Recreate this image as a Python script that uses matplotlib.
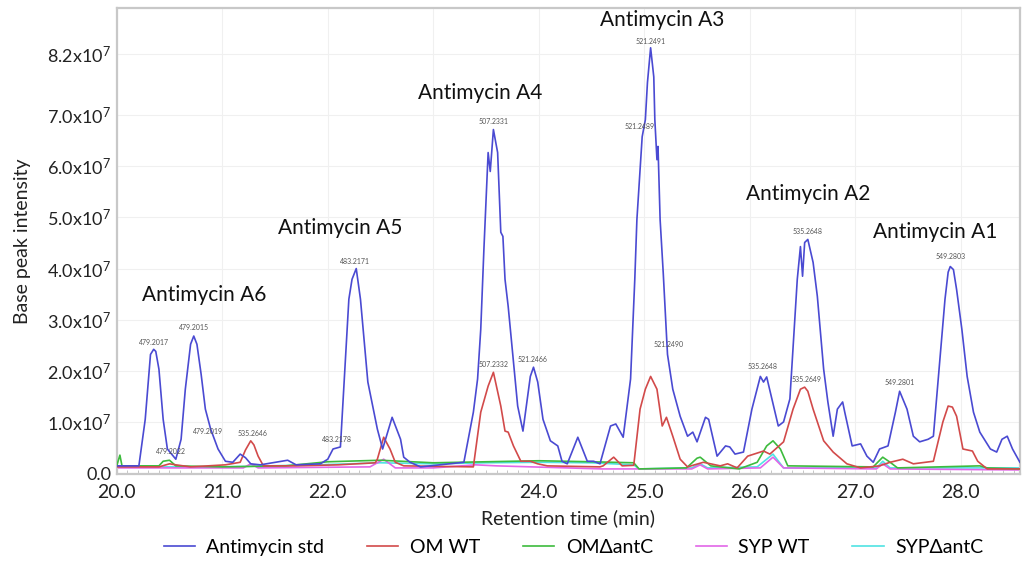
import matplotlib
matplotlib.use('Agg')
import matplotlib.pyplot as plt
from matplotlib.ticker import MultipleLocator

plt.rcParams['font.family'] = ['Lato', 'DejaVu Sans']
plt.rcParams['mathtext.default'] = 'regular'

# retention time (min) and base peak intensity (x1e7)
std_t = [20.00, 20.21, 20.27, 20.32, 20.35, 20.37, 20.40, 20.44, 20.48, 20.56, 20.61, 20.65, 20.70,
         20.73, 20.76, 20.80, 20.84, 20.89, 20.96, 21.03, 21.10, 21.17, 21.22, 21.27, 21.36, 21.62,
         21.70, 21.93, 22.00, 22.05, 22.12, 22.20, 22.23, 22.27, 22.31, 22.38, 22.47, 22.52, 22.61,
         22.69, 22.72, 22.78, 22.88, 23.29, 23.35, 23.38, 23.42, 23.45, 23.48, 23.52, 23.54, 23.57,
         23.61, 23.64, 23.66, 23.68, 23.71, 23.80, 23.85, 23.92, 23.95, 23.99, 24.04, 24.11, 24.18,
         24.22, 24.27, 24.37, 24.46, 24.52, 24.58, 24.68, 24.73, 24.80, 24.87, 24.91, 24.93, 24.98,
         25.01, 25.03, 25.06, 25.09, 25.10, 25.12, 25.13, 25.15, 25.18, 25.22, 25.27, 25.34, 25.41,
         25.46, 25.50, 25.58, 25.61, 25.69, 25.77, 25.81, 25.86, 25.94, 26.02, 26.10, 26.13, 26.16,
         26.27, 26.32, 26.38, 26.45, 26.48, 26.50, 26.52, 26.55, 26.60, 26.64, 26.70, 26.74, 26.79,
         26.83, 26.88, 26.90, 26.97, 27.05, 27.11, 27.17, 27.23, 27.31, 27.38, 27.42, 27.49, 27.55,
         27.61, 27.69, 27.74, 27.80, 27.85, 27.88, 27.90, 27.93, 27.96, 28.01, 28.06, 28.12, 28.18,
         28.28, 28.34, 28.39, 28.44, 28.49, 28.56]
std_i = [0.14, 0.14, 1.05, 2.32, 2.42, 2.38, 2.03, 1.05, 0.47, 0.27, 0.66, 1.64, 2.52,
         2.68, 2.52, 1.93, 1.25, 0.86, 0.47, 0.23, 0.21, 0.37, 0.30, 0.18, 0.16, 0.25,
         0.16, 0.18, 0.27, 0.47, 0.51, 3.40, 3.79, 4.00, 3.40, 1.78, 0.86, 0.47, 1.09,
         0.66, 0.31, 0.21, 0.12, 0.21, 0.86, 1.19, 1.84, 2.81, 4.38, 6.27, 5.90, 6.72,
         6.27, 4.71, 4.63, 3.79, 3.26, 1.31, 0.82, 1.89, 2.07, 1.78, 1.05, 0.63, 0.53,
         0.23, 0.18, 0.70, 0.23, 0.23, 0.18, 0.92, 0.96, 0.70, 1.84, 3.79, 4.96, 6.58,
         6.91, 7.64, 8.32, 7.75, 6.91, 6.13, 6.39, 4.96, 3.90, 2.32, 1.64, 1.11, 0.72,
         0.80, 0.61, 1.09, 1.05, 0.33, 0.53, 0.51, 0.37, 0.41, 1.25, 1.89, 1.78, 1.88,
         0.92, 1.00, 1.45, 3.79, 4.43, 3.85, 4.51, 4.57, 4.12, 3.46, 2.03, 1.39, 0.72,
         1.25, 1.39, 1.19, 0.53, 0.57, 0.33, 0.21, 0.47, 0.53, 1.19, 1.60, 1.25, 0.72,
         0.61, 0.66, 0.72, 2.17, 3.40, 3.93, 4.04, 3.98, 3.59, 2.81, 1.89, 1.19, 0.80,
         0.47, 0.41, 0.66, 0.72, 0.47, 0.21]

omwt_t = [20.00, 20.40, 20.50, 20.56, 20.70, 21.03, 21.17, 21.22, 21.27, 21.30, 21.34, 21.39, 21.70,
          22.10, 22.45, 22.47, 22.53, 22.59, 22.64, 22.72, 23.38, 23.45, 23.52, 23.57, 23.64, 23.68,
          23.71, 23.76, 23.83, 23.92, 23.99, 24.08, 24.58, 24.61, 24.71, 24.79, 24.90, 24.96, 25.01,
          25.06, 25.12, 25.17, 25.21, 25.27, 25.34, 25.41, 25.56, 25.72, 25.79, 25.88, 25.98, 26.13,
          26.19, 26.32, 26.41, 26.48, 26.52, 26.55, 26.60, 26.70, 26.79, 26.92, 27.05, 27.23, 27.33,
          27.45, 27.55, 27.74, 27.83, 27.88, 27.92, 27.96, 28.02, 28.11, 28.16, 28.25, 28.56]
omwt_i = [0.12, 0.12, 0.18, 0.16, 0.12, 0.16, 0.21, 0.45, 0.63, 0.55, 0.33, 0.14, 0.14,
          0.16, 0.20, 0.27, 0.70, 0.47, 0.21, 0.14, 0.12, 1.19, 1.70, 1.97, 1.31, 0.82,
          0.80, 0.53, 0.23, 0.23, 0.18, 0.14, 0.12, 0.14, 0.31, 0.14, 0.15, 1.25, 1.64,
          1.89, 1.64, 0.92, 1.09, 0.72, 0.27, 0.12, 0.21, 0.14, 0.18, 0.10, 0.33, 0.43,
          0.37, 0.61, 1.25, 1.64, 1.68, 1.60, 1.25, 0.63, 0.41, 0.18, 0.10, 0.14, 0.21,
          0.27, 0.18, 0.23, 1.00, 1.31, 1.29, 1.11, 0.47, 0.43, 0.23, 0.08, 0.08]

omko_t = [20.00, 20.03, 20.05, 20.40, 20.44, 20.50, 20.56, 21.00, 21.60, 22.00, 22.50, 23.00, 23.50,
          24.00, 24.50, 24.90, 24.95, 25.40, 25.50, 25.53, 25.63, 25.90, 26.07, 26.16, 26.22, 26.29,
          26.36, 27.17, 27.26, 27.33, 27.40, 28.18, 28.25, 28.56]
omko_i = [0.14, 0.35, 0.14, 0.14, 0.23, 0.25, 0.14, 0.12, 0.14, 0.22, 0.25, 0.20, 0.22,
          0.24, 0.22, 0.20, 0.08, 0.10, 0.29, 0.31, 0.14, 0.08, 0.21, 0.53, 0.63, 0.47,
          0.14, 0.12, 0.31, 0.21, 0.10, 0.14, 0.10, 0.08]

sypwt_t = [20.00, 21.20, 21.27, 21.34, 22.40, 22.53, 22.64, 23.00, 23.40, 23.60, 24.60, 25.45, 25.53,
           25.60, 26.10, 26.22, 26.32, 27.20, 27.26, 27.33, 28.56]
sypwt_i = [0.10, 0.10, 0.18, 0.10, 0.12, 0.27, 0.10, 0.10, 0.16, 0.14, 0.08, 0.08, 0.16,
           0.08, 0.10, 0.31, 0.10, 0.08, 0.18, 0.08, 0.06]

sypko_t = [20.00, 21.00, 21.90, 22.50, 23.00, 23.50, 24.00, 24.50, 24.90, 24.95, 25.45, 25.53, 25.60,
           26.07, 26.22, 26.32, 27.20, 27.26, 27.33, 28.56]
sypko_i = [0.12, 0.12, 0.16, 0.20, 0.18, 0.20, 0.21, 0.20, 0.16, 0.08, 0.10, 0.18, 0.10,
           0.12, 0.37, 0.10, 0.10, 0.23, 0.10, 0.10]

# m/z labels of the peaks
mz_text = ['479.2017', '479.2015', '479.2022', '479.2019', '535.2646', '483.2178', '483.2171',
           '507.2331', '507.2332', '521.2466', '521.2491', '521.2489', '521.2490', '535.2648',
           '535.2648', '535.2649', '549.2801', '549.2803']
mz_t = [20.35, 20.73, 20.51, 20.87, 21.29, 22.09, 22.26, 23.57, 23.57, 23.94, 25.06, 24.96, 25.23,
        26.12, 26.55, 26.54, 27.42, 27.90]
mz_i = [2.56, 2.85, 0.43, 0.82, 0.78, 0.66, 4.14, 6.88, 2.13, 2.23, 8.44, 6.78, 2.52,
        2.09, 4.73, 1.82, 1.78, 4.24]

compounds = ['Antimycin A6', 'Antimycin A5', 'Antimycin A4', 'Antimycin A3', 'Antimycin A2', 'Antimycin A1']
comp_t = [20.83, 22.12, 23.44, 25.17, 26.55, 27.76]
comp_i = [3.48, 4.80, 7.44, 8.87, 5.45, 4.71]

ytick_vals = [0, 1, 2, 3, 4, 5, 6, 7, 8.2]
ytick_labels = ['0.0', '1.0x10$^{7}$', '2.0x10$^{7}$', '3.0x10$^{7}$', '4.0x10$^{7}$',
                '5.0x10$^{7}$', '6.0x10$^{7}$', '7.0x10$^{7}$', '8.2x10$^{7}$']

fig = plt.figure(figsize=(10.24, 5.65), dpi=100)
ax = fig.add_axes([0.114, 0.161, 0.882, 0.825])

lw = 1.2
ax.plot(sypko_t, sypko_i, color='#4fe3e3', lw=lw, label='SYP\u0394antC', zorder=2)
ax.plot(sypwt_t, sypwt_i, color='#e266e8', lw=lw, label='SYP WT', zorder=2)
ax.plot(omko_t, omko_i, color='#3dbb3d', lw=lw, label='OM\u0394antC', zorder=3)
ax.plot(omwt_t, omwt_i, color='#d24a4a', lw=lw, label='OM WT', zorder=4)
ax.plot(std_t, std_i, color='#4a4ad2', lw=lw, label='Antimycin std', zorder=5)

for s, t, v in zip(mz_text, mz_t, mz_i):
    ax.text(t, v, s, fontsize=5, color='#555555', ha='center', va='center', zorder=6)

for s, t, v in zip(compounds, comp_t, comp_i):
    ax.text(t, v, s, fontsize=15, color='#111111', ha='center', va='center', zorder=6)

ax.set_xlim(20.0, 28.56)
ax.set_ylim(-0.02, 9.1)
ax.set_xticks([20, 21, 22, 23, 24, 25, 26, 27, 28])
ax.set_xticklabels(['20.0', '21.0', '22.0', '23.0', '24.0', '25.0', '26.0', '27.0', '28.0'])
ax.xaxis.set_minor_locator(MultipleLocator(0.1))
ax.set_yticks(ytick_vals)
ax.set_yticklabels(ytick_labels)
ax.tick_params(axis='x', which='major', labelsize=14, length=0, pad=7, colors='#222222')
ax.tick_params(axis='y', which='major', labelsize=13, length=0, pad=4, colors='#222222')
ax.tick_params(axis='x', which='minor', length=3, color='#bbbbbb', direction='in')

ax.grid(True, color='#f0f0f0', lw=0.8, zorder=0)
for sp in ax.spines.values():
    sp.set_color('#c8c8c8')
    sp.set_linewidth(1.6)

ax.set_xlabel('Retention time (min)', fontsize=14, color='#222222', labelpad=6)
ax.set_ylabel('Base peak intensity', fontsize=14, color='#222222', labelpad=12)

handles, labels = ax.get_legend_handles_labels()
order = [4, 3, 2, 1, 0]
fig.legend([handles[k] for k in order], [labels[k] for k in order], loc='lower center',
           bbox_to_anchor=(0.56, -0.015), ncol=5, frameon=False, fontsize=14,
           handlelength=1.6, handletextpad=0.6, columnspacing=2.2)

fig.savefig('out.png', dpi=100)
